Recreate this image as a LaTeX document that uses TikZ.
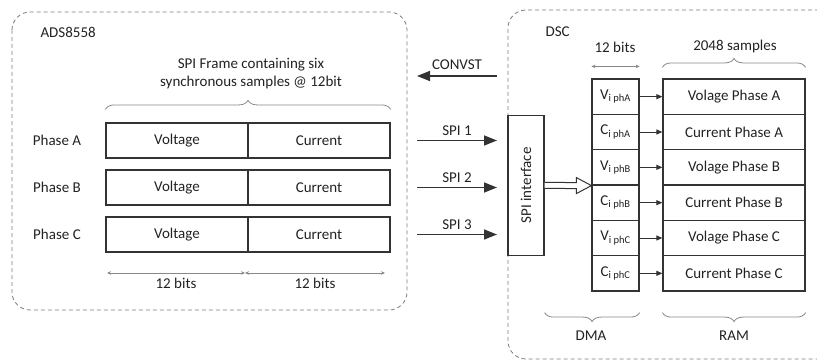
\documentclass[tikz,border=0pt]{standalone}
\usepackage{fontspec}
\setmainfont{Carlito}
\usetikzlibrary{arrows.meta,decorations.pathreplacing,calc}

\definecolor{ink}{HTML}{333333}
\definecolor{txt}{HTML}{222222}
\definecolor{frame}{HTML}{7C7C7C}
\definecolor{soft}{HTML}{888888}

\begin{document}
\begin{tikzpicture}[x=1pt,y=-1pt,
  font=\fontsize{15}{18}\selectfont, text=txt,
  cell/.style={draw=ink, line width=1.2pt, minimum height=35pt, inner sep=0pt},
  dmacell/.style={cell, minimum width=47pt, minimum height=35.33pt},
  ramcell/.style={cell, minimum width=142pt, minimum height=35.33pt},
  boundary/.style={draw=frame, line width=0.8pt, dash pattern=on 4pt off 3pt, rounded corners=18pt},
  bigarrow/.style={draw=ink, line width=1.5pt, -{Triangle[length=13pt,width=10pt]}},
  smallarrow/.style={draw=ink, line width=1pt, -{Triangle[length=6pt,width=5pt]}},
  dim/.style={draw=soft, line width=0.7pt, {Stealth[length=4pt,width=3.5pt]}-{Stealth[length=4pt,width=3.5pt]}},
  bracebar/.style={draw=soft, line width=0.8pt, decorate, decoration={brace, amplitude=9pt}},
  hollow/.style={draw=ink, line width=1pt, fill=white, line join=miter}
]
\useasboundingbox (0,0) rectangle (817,361);
\clip (0,0) rectangle (817,361);

% device outlines
\draw[boundary] (12,12) rectangle (407,310);
\draw[boundary] (840,10) -- (508,10) -- (508,359) -- (840,359);
\node[anchor=west] (ads) at (37,32) {ADS8558};
\node[anchor=west] (dsc) at (542,32) {DSC};

% SPI frame of the ADC
\node[align=center] (frametxt) at (251,74) {SPI Frame containing six\\synchronous samples @ 12bit};

\node (pa) at (57,140.5) {Phase A};
\node (pb) at (57,187.5) {Phase B};
\node (pc) at (57,234.5) {Phase C};

\node[cell, minimum width=142pt] (va) at (177,140.5) {Voltage};
\node[cell, minimum width=142pt] (ia) at (319,140.5) {Current};
\node[cell, minimum width=142pt] (vb) at (177,187.5) {Voltage};
\node[cell, minimum width=142pt] (ib) at (319,187.5) {Current};
\node[cell, minimum width=142pt] (vc) at (177,234.5) {Voltage};
\node[cell, minimum width=142pt] (ic) at (319,234.5) {Current};

\draw[bracebar] ($(va.north west)+(0,-13)$) -- ($(ia.north east)+(0,-13)$);

% bit widths below the frame
\coordinate (w0) at (107,273);
\coordinate (w1) at (245,273);
\coordinate (w2) at (385,273);
\draw[dim] (w0) -- (w1) node[midway, below=1pt] (wl1) {12 bits};
\draw[dim] (w1) -- (w2) node[midway, below=1pt] (wl2) {12 bits};

% signals between the devices
\coordinate (cvs) at (497,76);  \coordinate (cvt) at (417,76);
\coordinate (s1s) at (417,140.5); \coordinate (s1t) at (497,140.5);
\coordinate (s2s) at (417,187.5); \coordinate (s2t) at (497,187.5);
\coordinate (s3s) at (417,234.5); \coordinate (s3t) at (497,234.5);
\draw[bigarrow] (cvs) -- (cvt) node[midway, above=2pt] (cvl) {CONVST};
\draw[bigarrow] (s1s) -- (s1t) node[midway, above=1pt] (s1l) {SPI 1};
\draw[bigarrow] (s2s) -- (s2t) node[midway, above=1pt] (s2l) {SPI 2};
\draw[bigarrow] (s3s) -- (s3t) node[midway, above=1pt] (s3l) {SPI 3};

% controller side
\node[cell, minimum width=36pt, minimum height=140pt] (spi) at (526,185.33) {};
\node[rotate=90] (spitxt) at (spi.center) {SPI interface};

\node[dmacell] (d1) at (615.5,96.67)  {V\textsubscript{i phA}};
\node[dmacell] (d2) at (615.5,132.0)  {C\textsubscript{i phA}};
\node[dmacell] (d3) at (615.5,167.33) {V\textsubscript{i phB}};
\node[dmacell] (d4) at (615.5,202.67) {C\textsubscript{i phB}};
\node[dmacell] (d5) at (615.5,238.0)  {V\textsubscript{i phC}};
\node[dmacell] (d6) at (615.5,273.33) {C\textsubscript{i phC}};

\node[ramcell] (r1) at (734,96.67)  {Volage Phase A};
\node[ramcell] (r2) at (734,132.0)  {Current Phase A};
\node[ramcell] (r3) at (734,167.33) {Volage Phase B};
\node[ramcell] (r4) at (734,202.67) {Current Phase B};
\node[ramcell] (r5) at (734,238.0)  {Volage Phase C};
\node[ramcell] (r6) at (734,273.33) {Current Phase C};

\foreach \k in {1,...,6} \draw[smallarrow] (d\k.east) -- (r\k.west);

% hollow transfer arrow into the DMA
\draw[hollow] ($(spi.east)+(0,-3)$) -- ($(d3.south west)+(-15,-3)$) -- ($(d3.south west)+(-15,-8)$)
  -- (d3.south west) -- ($(d3.south west)+(-15,8)$) -- ($(d3.south west)+(-15,3)$) -- ($(spi.east)+(0,3)$);

% widths and groups
\draw[dim] ($(d1.north west)+(0,-12)$) -- ($(d1.north east)+(0,-12)$);
\node (dmaw) at (615,47) {12 bits};
\draw[bracebar] ($(r1.north west)+(0,-11)$) -- ($(r1.north east)+(0,-11)$);
\node (ramw) at (735,47) {2048 samples};

\draw[bracebar] ($(d6.south east)+(0,21)$) -- ($(spi.east |- d6.south)+(0,21)$);
\node (dmal) at (591,336) {DMA};
\draw[bracebar] ($(r6.south east)+(0,21)$) -- ($(r6.south west)+(0,21)$);
\node (raml) at (734,336) {RAM};
\end{tikzpicture}
\end{document}
